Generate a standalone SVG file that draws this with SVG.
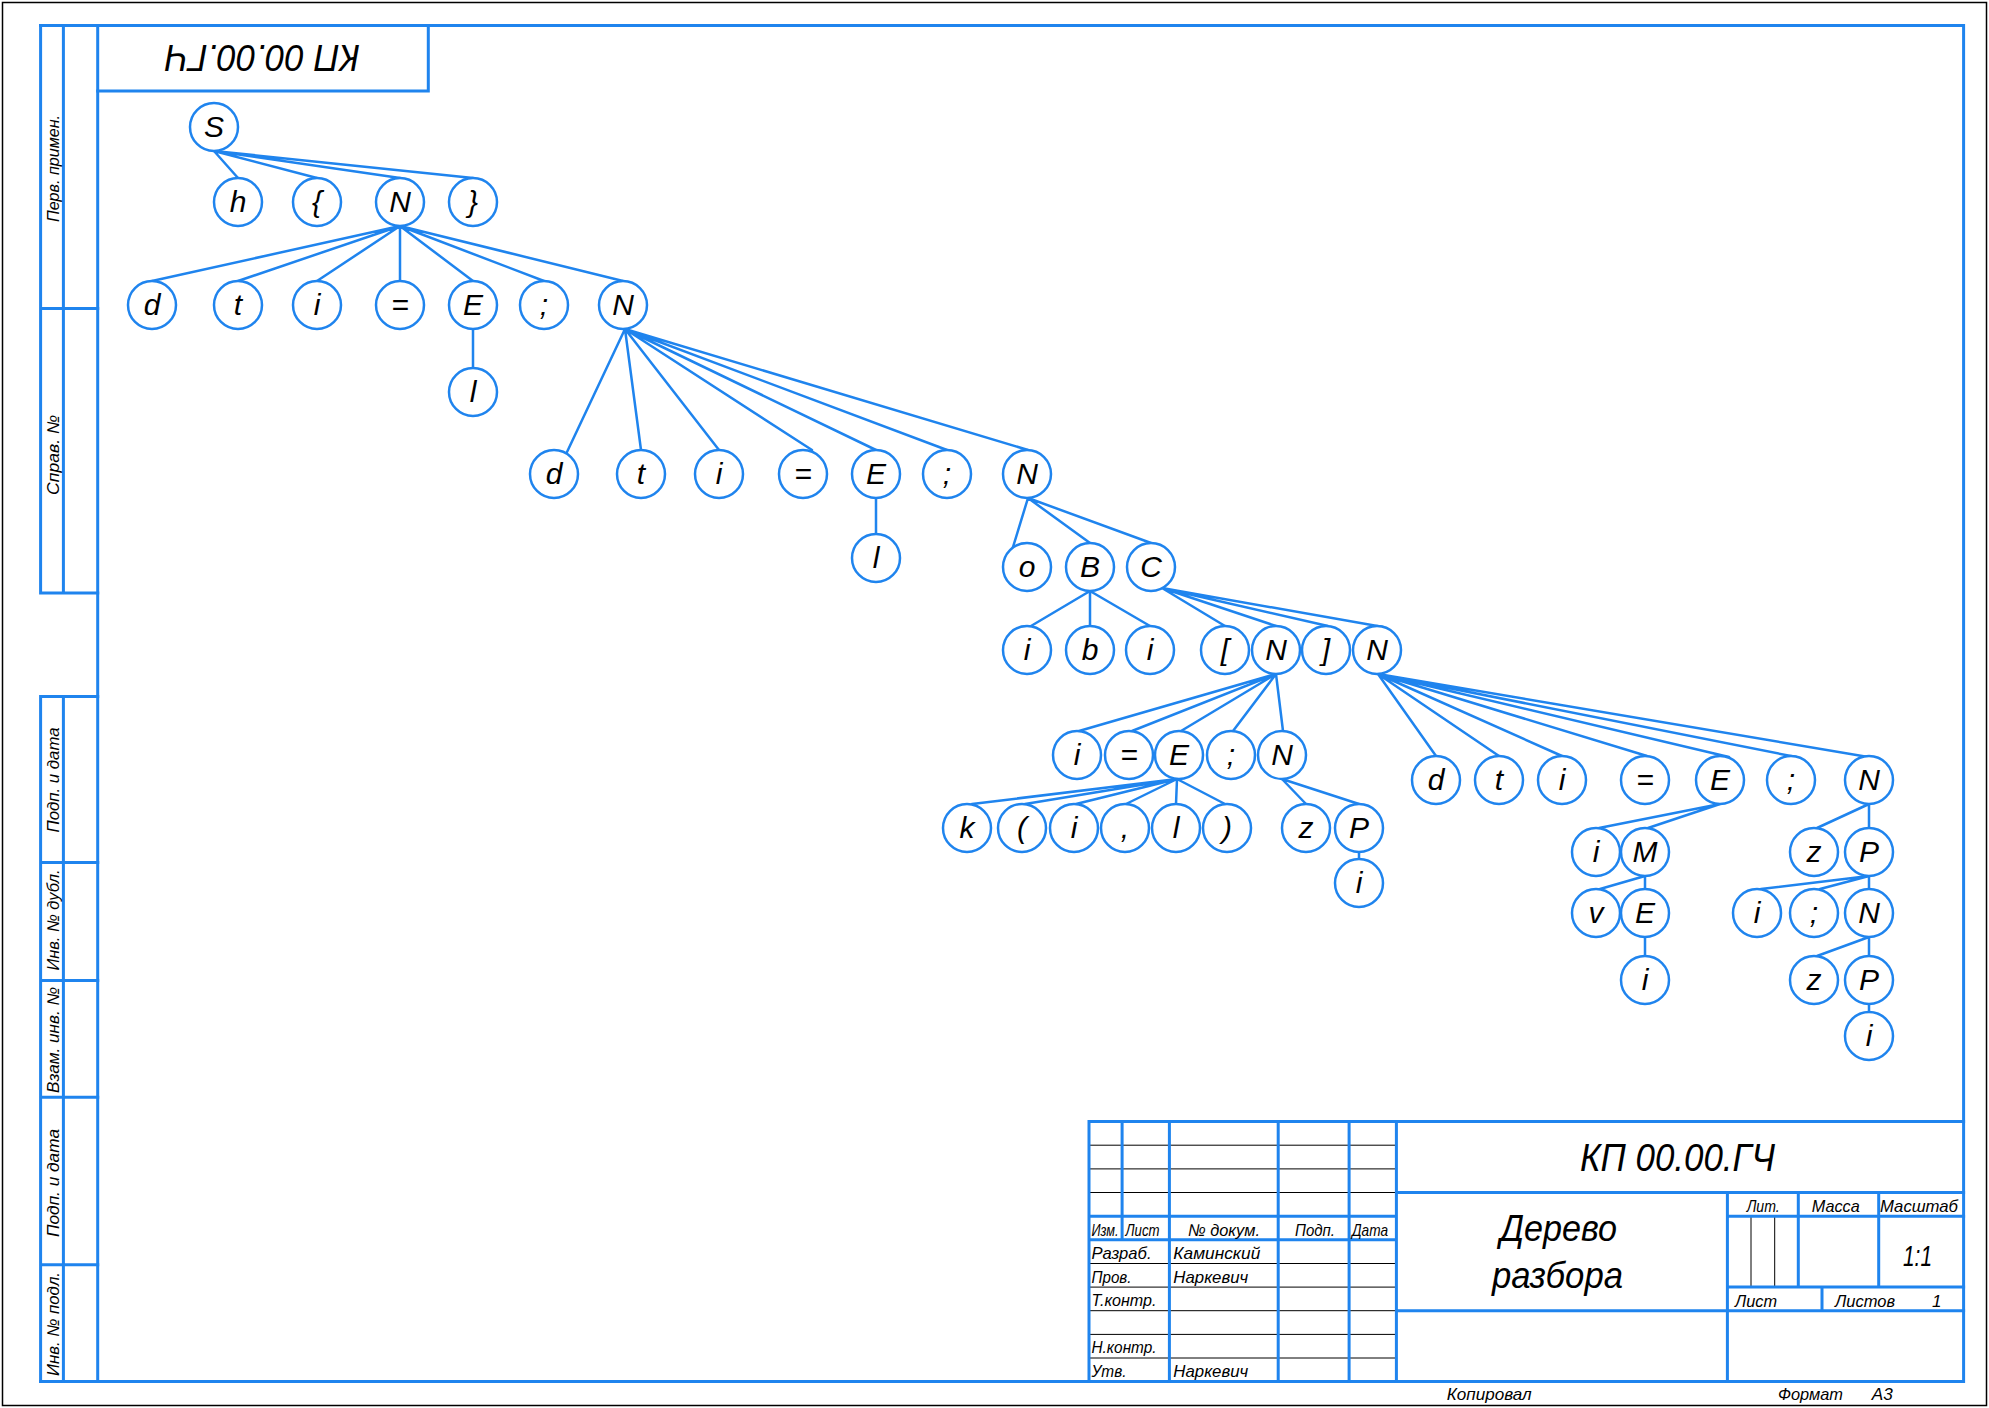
<svg xmlns="http://www.w3.org/2000/svg" width="1989" height="1408" viewBox="0 0 1989 1408">
<style>
.bg{fill:#fff}
.fr{fill:none;stroke:#1F84EE;stroke-width:3;stroke-linecap:square}
.th{fill:none;stroke:#000;stroke-width:1}
.ed{fill:none;stroke:#1F84EE;stroke-width:2.5;stroke-linecap:round}
.nd circle{fill:#fff;stroke:#1F84EE;stroke-width:2.5}
.nd text{font-family:"Liberation Sans Narrow","Liberation Sans",sans-serif;font-style:italic;font-size:30px;text-anchor:middle;fill:#000}
.tx{font-family:"Liberation Sans Narrow","Liberation Sans",sans-serif;font-style:italic;fill:#000}
.s17{font-size:17px}
.mid{text-anchor:middle}
</style>
<rect class="bg" x="0" y="0" width="1989" height="1408"/>
<rect x="2.5" y="2.5" width="1984" height="1403" fill="none" stroke="#000" stroke-width="1.5"/>

<g id="frame">
<path class="fr" d="M40.6 25.4H1963.6V1381.6H40.6M97.7 25.4V1381.6"/>
<path class="fr" d="M40.6 25.4V593M63.4 25.4V593M40.6 308.5H97.7M40.6 593H97.7"/>
<path class="fr" d="M40.6 696.5V1381.6M63.4 696.5V1381.6M40.6 696.5H97.7M40.6 862.6H97.7M40.6 980.6H97.7M40.6 1097.3H97.7M40.6 1264.7H97.7"/>
<path class="fr" d="M428.3 25.4V91H97.7"/>
<text class="tx" x="262.5" y="71.6" font-size="37" text-anchor="middle" textLength="195" lengthAdjust="spacingAndGlyphs" transform="rotate(180 262.5 58.3)">КП 00.00.ГЧ</text>
<g class="tx s17 mid">
<text transform="translate(59 168.5) rotate(-90)" textLength="107" lengthAdjust="spacingAndGlyphs">Перв. примен.</text>
<text transform="translate(59 455) rotate(-90)" textLength="80" lengthAdjust="spacingAndGlyphs">Справ. №</text>
<text transform="translate(59 780) rotate(-90)" textLength="105" lengthAdjust="spacingAndGlyphs">Подп. и дата</text>
<text transform="translate(59 920) rotate(-90)" textLength="101" lengthAdjust="spacingAndGlyphs">Инв. № дубл.</text>
<text transform="translate(59 1040) rotate(-90)" textLength="106" lengthAdjust="spacingAndGlyphs">Взам. инв. №</text>
<text transform="translate(59 1183) rotate(-90)" textLength="108" lengthAdjust="spacingAndGlyphs">Подп. и дата</text>
<text transform="translate(59 1324) rotate(-90)" textLength="104" lengthAdjust="spacingAndGlyphs">Инв. № подл.</text>
</g>
</g>

<g id="title-block">
<path class="th" d="M1089 1145.2H1396.4M1089 1168.9H1396.4M1089 1192.5H1396.4M1089 1263.5H1396.4M1089 1287.1H1396.4M1089 1310.7H1396.4M1089 1334.4H1396.4M1089 1358H1396.4M1751 1216.2V1287.1M1774.7 1216.2V1287.1"/>
<path class="fr" d="M1089 1121.6H1963.6M1089 1121.6V1381.6M1122.1 1121.6V1239.8M1169.4 1121.6V1381.6M1278.2 1121.6V1381.6M1349.1 1121.6V1381.6M1396.4 1121.6V1381.6M1089 1216.2H1396.4M1089 1239.8H1396.4M1396.4 1192.5H1963.6M1396.4 1310.7H1963.6M1727.4 1192.5V1381.6M1727.4 1216.2H1963.6M1727.4 1287.1H1963.6M1798.3 1192.5V1287.1M1878.7 1192.5V1287.1M1822 1287.1V1310.7"/>
<text class="tx" x="1580" y="1171" font-size="38" textLength="195" lengthAdjust="spacingAndGlyphs">КП 00.00.ГЧ</text>
<text class="tx" x="1500" y="1241" font-size="36" textLength="117" lengthAdjust="spacingAndGlyphs">Дерево</text>
<text class="tx" x="1492" y="1288" font-size="36" textLength="131" lengthAdjust="spacingAndGlyphs">разбора</text>
<g class="tx s17">
<text x="1091.5" y="1236" textLength="27" lengthAdjust="spacingAndGlyphs">Изм.</text>
<text x="1125.5" y="1236" textLength="34" lengthAdjust="spacingAndGlyphs">Лист</text>
<text x="1188" y="1236" textLength="72" lengthAdjust="spacingAndGlyphs">№ докум.</text>
<text x="1295" y="1236" textLength="40" lengthAdjust="spacingAndGlyphs">Подп.</text>
<text x="1352" y="1236" textLength="36" lengthAdjust="spacingAndGlyphs">Дата</text>
<text x="1091.5" y="1259" textLength="60" lengthAdjust="spacingAndGlyphs">Разраб.</text>
<text x="1173.3" y="1259" textLength="87" lengthAdjust="spacingAndGlyphs">Каминский</text>
<text x="1091.5" y="1282.5" textLength="40" lengthAdjust="spacingAndGlyphs">Пров.</text>
<text x="1173.3" y="1282.5" textLength="75" lengthAdjust="spacingAndGlyphs">Наркевич</text>
<text x="1091.5" y="1306" textLength="65" lengthAdjust="spacingAndGlyphs">Т.контр.</text>
<text x="1091.5" y="1353" textLength="65" lengthAdjust="spacingAndGlyphs">Н.контр.</text>
<text x="1091.5" y="1376.5" textLength="35" lengthAdjust="spacingAndGlyphs">Утв.</text>
<text x="1173.3" y="1376.5" textLength="75" lengthAdjust="spacingAndGlyphs">Наркевич</text>
<text x="1746.7" y="1212" textLength="33" lengthAdjust="spacingAndGlyphs">Лит.</text>
<text x="1811.7" y="1212" textLength="48" lengthAdjust="spacingAndGlyphs">Масса</text>
<text x="1880" y="1212" textLength="78" lengthAdjust="spacingAndGlyphs">Масштаб</text>
<text x="1735" y="1306.5" textLength="42" lengthAdjust="spacingAndGlyphs">Лист</text>
<text x="1835" y="1306.5" textLength="60" lengthAdjust="spacingAndGlyphs">Листов</text>
<text x="1932" y="1306.5">1</text>
<text x="1446.7" y="1400" textLength="85" lengthAdjust="spacingAndGlyphs">Копировал</text>
<text x="1778" y="1400" textLength="65" lengthAdjust="spacingAndGlyphs">Формат</text>
<text x="1871.7" y="1400" textLength="21" lengthAdjust="spacingAndGlyphs">А3</text>
</g>
<text class="tx" x="1903" y="1266" font-size="30" textLength="29" lengthAdjust="spacingAndGlyphs">1:1</text>
</g>

<g id="connectors" class="ed">
<path d="M214 151L238 178M214 151L317 178M214 151L400 178M214 151L473 178"/>
<path d="M400 226L152 281M400 226L238 281M400 226L317 281M400 226L400 281M400 226L473 281M400 226L544 281M400 226L623 281M473 329L473 368"/>
<path d="M625 329L567 452M625 329L641 450M625 329L719 450M625 329L812 450M625 329L876 450M625 329L947 450M625 329L1028 450M876 498L876 534"/>
<path d="M1028 498L1013 547M1028 498L1090 543M1028 498L1151 543"/>
<path d="M1090 591L1031 626M1090 591L1090 626M1090 591L1150 626"/>
<path d="M1162 588L1225 626M1162 588L1276 626M1162 588L1328 626M1162 588L1383 627"/>
<path d="M1276 674L1079 731M1276 674L1132 731M1276 674L1181 731M1276 674L1233 731M1276 674L1283 731"/>
<path d="M1177 779L972 804M1177 779L1025 804M1177 779L1076 804M1177 779L1126 804M1177 779L1176 804M1177 779L1225 804M1282 779L1306 804M1282 779L1359 804M1359 852L1359 859"/>
<path d="M1378 674L1436 756M1378 674L1499 756M1378 674L1562 756M1378 674L1647 756M1378 674L1729 757M1378 674L1796 757M1378 674L1880 759"/>
<path d="M1720 804L1599 828M1720 804L1648 828M1645 876L1600 889M1645 876L1645 889M1645 937L1645 956"/>
<path d="M1869 804L1817 828M1869 804L1869 828M1869 876L1761 889M1869 876L1820 889M1869 876L1869 889M1869 937L1817 956M1869 937L1869 956M1869 1004L1869 1012"/>
</g>

<g id="nodes" class="nd">
<g id="n-S"><circle cx="214" cy="127" r="24"/><text x="214" y="137">S</text></g>
<g id="n-h"><circle cx="238" cy="202" r="24"/><text x="238" y="212">h</text></g>
<g id="n-lbrace"><circle cx="317" cy="202" r="24"/><text x="317" y="212">{</text></g>
<g id="n-N1"><circle cx="400" cy="202" r="24"/><text x="400" y="212">N</text></g>
<g id="n-rbrace"><circle cx="473" cy="202" r="24"/><text x="473" y="212">}</text></g>

<g id="n-d2"><circle cx="152" cy="305" r="24"/><text x="152" y="315">d</text></g>
<g id="n-t2"><circle cx="238" cy="305" r="24"/><text x="238" y="315">t</text></g>
<g id="n-i2"><circle cx="317" cy="305" r="24"/><text x="317" y="315">i</text></g>
<g id="n-eq2"><circle cx="400" cy="305" r="24"/><text x="400" y="315">=</text></g>
<g id="n-E2"><circle cx="473" cy="305" r="24"/><text x="473" y="315">E</text></g>
<g id="n-sc2"><circle cx="544" cy="305" r="24"/><text x="544" y="315">;</text></g>
<g id="n-N2"><circle cx="623" cy="305" r="24"/><text x="623" y="315">N</text></g>
<g id="n-l2"><circle cx="473" cy="392" r="24"/><text x="473" y="402">l</text></g>

<g id="n-d3"><circle cx="554" cy="474" r="24"/><text x="554" y="484">d</text></g>
<g id="n-t3"><circle cx="641" cy="474" r="24"/><text x="641" y="484">t</text></g>
<g id="n-i3"><circle cx="719" cy="474" r="24"/><text x="719" y="484">i</text></g>
<g id="n-eq3"><circle cx="803" cy="474" r="24"/><text x="803" y="484">=</text></g>
<g id="n-E3"><circle cx="876" cy="474" r="24"/><text x="876" y="484">E</text></g>
<g id="n-sc3"><circle cx="947" cy="474" r="24"/><text x="947" y="484">;</text></g>
<g id="n-N3"><circle cx="1027" cy="474" r="24"/><text x="1027" y="484">N</text></g>
<g id="n-l3"><circle cx="876" cy="558" r="24"/><text x="876" y="568">l</text></g>

<g id="n-o4"><circle cx="1027" cy="567" r="24"/><text x="1027" y="577">o</text></g>
<g id="n-B4"><circle cx="1090" cy="567" r="24"/><text x="1090" y="577">B</text></g>
<g id="n-C4"><circle cx="1151" cy="567" r="24"/><text x="1151" y="577">C</text></g>

<g id="n-i5a"><circle cx="1027" cy="650" r="24"/><text x="1027" y="660">i</text></g>
<g id="n-b5"><circle cx="1090" cy="650" r="24"/><text x="1090" y="660">b</text></g>
<g id="n-i5b"><circle cx="1150" cy="650" r="24"/><text x="1150" y="660">i</text></g>
<g id="n-lbk5"><circle cx="1225" cy="650" r="24"/><text x="1225" y="660">[</text></g>
<g id="n-N5a"><circle cx="1276" cy="650" r="24"/><text x="1276" y="660">N</text></g>
<g id="n-rbk5"><circle cx="1326" cy="650" r="24"/><text x="1326" y="660">]</text></g>
<g id="n-N5b"><circle cx="1377" cy="650" r="24"/><text x="1377" y="660">N</text></g>

<g id="n-i6"><circle cx="1077" cy="755" r="24"/><text x="1077" y="765">i</text></g>
<g id="n-eq6"><circle cx="1129" cy="755" r="24"/><text x="1129" y="765">=</text></g>
<g id="n-E6"><circle cx="1179" cy="755" r="24"/><text x="1179" y="765">E</text></g>
<g id="n-sc6"><circle cx="1231" cy="755" r="24"/><text x="1231" y="765">;</text></g>
<g id="n-N6"><circle cx="1282" cy="755" r="24"/><text x="1282" y="765">N</text></g>

<g id="n-k7"><circle cx="967" cy="828" r="24"/><text x="967" y="838">k</text></g>
<g id="n-lp7"><circle cx="1022" cy="828" r="24"/><text x="1022" y="838">(</text></g>
<g id="n-i7"><circle cx="1074" cy="828" r="24"/><text x="1074" y="838">i</text></g>
<g id="n-cm7"><circle cx="1125" cy="828" r="24"/><text x="1125" y="838">,</text></g>
<g id="n-l7"><circle cx="1176" cy="828" r="24"/><text x="1176" y="838">l</text></g>
<g id="n-rp7"><circle cx="1227" cy="828" r="24"/><text x="1227" y="838">)</text></g>
<g id="n-z7"><circle cx="1306" cy="828" r="24"/><text x="1306" y="838">z</text></g>
<g id="n-P7"><circle cx="1359" cy="828" r="24"/><text x="1359" y="838">P</text></g>
<g id="n-i8"><circle cx="1359" cy="883" r="24"/><text x="1359" y="893">i</text></g>

<g id="n-d9"><circle cx="1436" cy="780" r="24"/><text x="1436" y="790">d</text></g>
<g id="n-t9"><circle cx="1499" cy="780" r="24"/><text x="1499" y="790">t</text></g>
<g id="n-i9"><circle cx="1562" cy="780" r="24"/><text x="1562" y="790">i</text></g>
<g id="n-eq9"><circle cx="1645" cy="780" r="24"/><text x="1645" y="790">=</text></g>
<g id="n-E9"><circle cx="1720" cy="780" r="24"/><text x="1720" y="790">E</text></g>
<g id="n-sc9"><circle cx="1791" cy="780" r="24"/><text x="1791" y="790">;</text></g>
<g id="n-N9"><circle cx="1869" cy="780" r="24"/><text x="1869" y="790">N</text></g>

<g id="n-i10"><circle cx="1596" cy="852" r="24"/><text x="1596" y="862">i</text></g>
<g id="n-M10"><circle cx="1645" cy="852" r="24"/><text x="1645" y="862">M</text></g>
<g id="n-z10"><circle cx="1814" cy="852" r="24"/><text x="1814" y="862">z</text></g>
<g id="n-P10"><circle cx="1869" cy="852" r="24"/><text x="1869" y="862">P</text></g>

<g id="n-v11"><circle cx="1596" cy="913" r="24"/><text x="1596" y="923">v</text></g>
<g id="n-E11"><circle cx="1645" cy="913" r="24"/><text x="1645" y="923">E</text></g>
<g id="n-i11"><circle cx="1757" cy="913" r="24"/><text x="1757" y="923">i</text></g>
<g id="n-sc11"><circle cx="1814" cy="913" r="24"/><text x="1814" y="923">;</text></g>
<g id="n-N11"><circle cx="1869" cy="913" r="24"/><text x="1869" y="923">N</text></g>

<g id="n-i12"><circle cx="1645" cy="980" r="24"/><text x="1645" y="990">i</text></g>
<g id="n-z12"><circle cx="1814" cy="980" r="24"/><text x="1814" y="990">z</text></g>
<g id="n-P12"><circle cx="1869" cy="980" r="24"/><text x="1869" y="990">P</text></g>
<g id="n-i13"><circle cx="1869" cy="1036" r="24"/><text x="1869" y="1046">i</text></g>
</g>
</svg>
